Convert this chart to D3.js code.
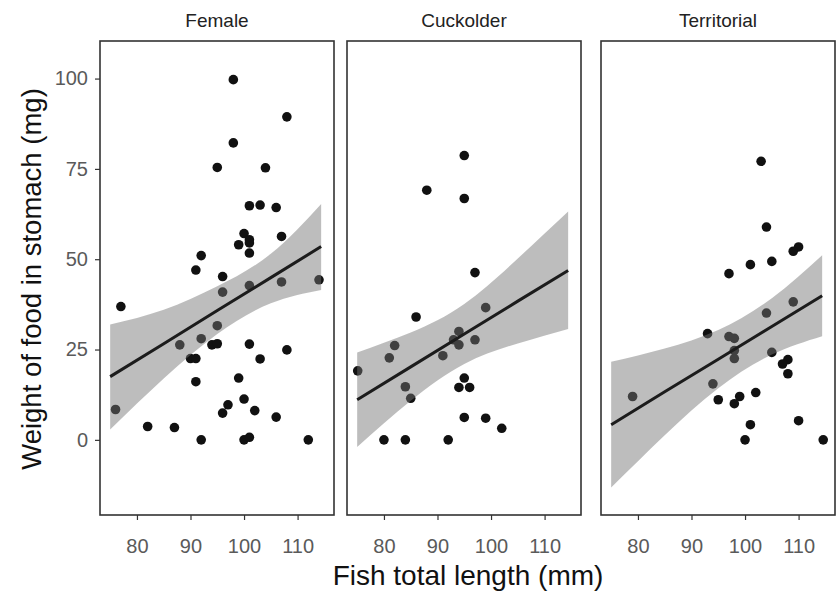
<!DOCTYPE html>
<html>
<head>
<meta charset="utf-8">
<script src="https://cdn.jsdelivr.net/npm/d3@7"></script>
<style>
  html, body { margin: 0; padding: 0; background: #fff; }
  svg { display: block; font-family: "Liberation Sans", Arial, sans-serif; }
</style>
</head>
<body>
<svg id="chart" width="836" height="592"></svg>
<script>
// ---- data ----
const panels = ["Female", "Cuckolder", "Territorial"];
const femaleX = [98,108,98,95,104,101,103,106,100,101,101,99,101,107,92,91,96,101,107,114,96,77,95,92,88,94,95,101,108,90,91,103,99,91,100,97,96,102,106,76,82,87,92,100,101,112];
const femaleY = [99.7,89.4,82.2,75.4,75.3,64.8,65.0,64.3,57.1,55.4,54.5,54.0,51.7,56.3,51.0,47.0,45.2,42.7,43.7,44.3,40.9,36.9,31.6,28.0,26.3,26.3,26.6,26.5,24.9,22.5,22.5,22.4,17.1,16.1,11.3,9.7,7.4,8.1,6.3,8.4,3.7,3.4,0,0,0.7,0];
const cuckX = [95,88,95,97,99,86,94,93,94,97,82,81,91,75.1,95,94,96,84,85,95,99,102,80,84,92];
const cuckY = [78.7,69.1,66.8,46.3,36.6,34.0,30.0,27.7,26.3,27.7,26.1,22.7,23.3,19.1,17.1,14.5,14.5,14.7,11.5,6.2,6.0,3.2,0,0,0];
const terrX = [103,104,110,109,105,101,97,109,104,93,97,98,98,98,105,108,107,108,79,94,95,99,98,102,110,101,100,114.6];
const terrY = [77.1,58.9,53.4,52.2,49.4,48.5,46.0,38.2,35.1,29.4,28.6,28.1,24.7,22.5,24.2,22.2,21.0,18.3,12.0,15.5,11.1,12.0,10.0,13.1,5.3,4.2,0,0];

// fitted line and 95% band at these lengths
const bandX = [75, 85, 95, 105, 114.4];
const femaleFit = [17.5, 26.6, 35.8, 44.9, 53.5];
const femaleUpper = [31.9, 36.0, 42.5, 51.5, 65.3];
const femaleLower = [2.9, 17.0, 29.3, 37.8, 41.5];
const cuckFit = [11.1, 20.2, 29.3, 38.4, 46.9];
const cuckUpper = [24.2, 29.7, 37.6, 50.2, 63.2];
const cuckLower = [-2.0, 10.8, 21.0, 26.7, 30.7];
const terrFit = [4.2, 13.3, 22.3, 31.4, 39.9];
const terrUpper = [21.6, 25.3, 30.4, 39.2, 51.1];
const terrLower = [-13.2, 1.3, 14.3, 23.6, 28.7];

const xTicks = [80, 90, 100, 110];
const yTicks = [0, 25, 50, 75, 100];

const seriesX = [femaleX, cuckX, terrX];
const seriesY = [femaleY, cuckY, terrY];
const fits = [femaleFit, cuckFit, terrFit];
const uppers = [femaleUpper, cuckUpper, terrUpper];
const lowers = [femaleLower, cuckLower, terrLower];

// ---- layout ----
const panelLeft = [100, 347, 601];
const panelW = 234;
const pTop = 41, pBottom = 515;

const svg = d3.select("#chart");
const y = d3.scaleLinear().domain([-20.8, 110.4]).range([pBottom, pTop]);

panels.forEach((name, pi) => {
  const x0 = panelLeft[pi];
  const x = d3.scaleLinear().domain([73.1, 116.8]).range([x0, x0 + panelW]);
  const g = svg.append("g");
  const clipId = "clip" + pi;
  svg.append("clipPath").attr("id", clipId).append("rect")
    .attr("x", x0).attr("y", pTop).attr("width", panelW).attr("height", pBottom - pTop);

  const pts = seriesX[pi].map((v, i) => ({x: v, y: seriesY[pi][i]}));
  const inner = g.append("g").attr("clip-path", `url(#${clipId})`);
  inner.selectAll("circle").data(pts).join("circle")
    .attr("cx", d => x(d.x)).attr("cy", d => y(d.y)).attr("r", 4.8)
    .attr("fill", "#111");

  const band = bandX.map((v, i) => ({x: v, y: fits[pi][i], lo: lowers[pi][i], hi: uppers[pi][i]}));
  inner.append("path").datum(band)
    .attr("d", d3.area().curve(d3.curveNatural).x(d => x(d.x)).y0(d => y(d.lo)).y1(d => y(d.hi)))
    .attr("fill", "#767676").attr("fill-opacity", 0.48);
  inner.append("path").datum(band)
    .attr("d", d3.line().x(d => x(d.x)).y(d => y(d.y)))
    .attr("fill", "none").attr("stroke", "#1c1c1c").attr("stroke-width", 3);

  // border
  g.append("rect").attr("x", x0).attr("y", pTop).attr("width", panelW).attr("height", pBottom - pTop)
    .attr("fill", "none").attr("stroke", "#333").attr("stroke-width", 1.6);

  // x axis
  const xa = g.append("g").attr("transform", `translate(0,${pBottom})`)
    .call(d3.axisBottom(x).tickValues(xTicks).tickSize(5).tickPadding(19));
  xa.select(".domain").remove();
  xa.selectAll(".tick line").attr("stroke", "#333").attr("stroke-width", 1.2);
  xa.selectAll(".tick text").attr("fill", "#5a5a5a").attr("font-size", 20)
    .attr("font-family", "Liberation Sans, Arial, sans-serif");

  // strip
  g.append("text").attr("x", x0 + panelW/2).attr("y", 27).attr("text-anchor", "middle")
    .attr("font-size", 19).attr("fill", "#222").text(name);

  if (pi === 0) {
    const ya = g.append("g").attr("transform", `translate(${x0},0)`)
      .call(d3.axisLeft(y).tickValues(yTicks).tickSize(5).tickPadding(7));
    ya.select(".domain").remove();
    ya.selectAll(".tick line").attr("stroke", "#333").attr("stroke-width", 1.2);
    ya.selectAll(".tick text").attr("fill", "#5a5a5a").attr("font-size", 20)
      .attr("font-family", "Liberation Sans, Arial, sans-serif");
  }
});

svg.append("text").attr("x", 468).attr("y", 585).attr("text-anchor", "middle")
  .attr("font-size", 28).attr("fill", "#111").text("Fish total length (mm)");
svg.append("text").attr("transform", "translate(41,279) rotate(-90)").attr("text-anchor", "middle")
  .attr("font-size", 27.5).attr("fill", "#111").text("Weight of food in stomach (mg)");
</script>
</body>
</html>
